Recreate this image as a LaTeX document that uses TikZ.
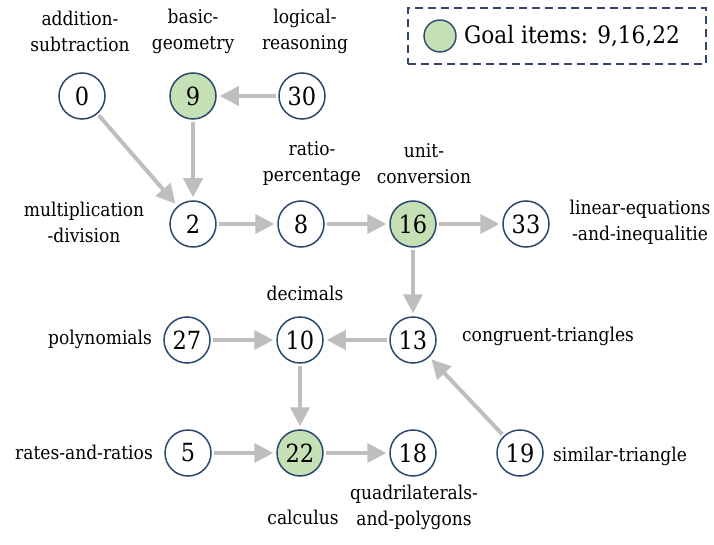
\documentclass[tikz,border=0pt]{standalone}
\usepackage{fontspec}
\setmainfont{DejaVu Serif Condensed}
\usetikzlibrary{arrows.meta}
\definecolor{edgegray}{HTML}{BEBEBE}
\definecolor{ringblue}{HTML}{2C4870}
\definecolor{goalgreen}{HTML}{C5E0B4}
\definecolor{boxblue}{HTML}{34466A}
\tikzset{
  item/.style={circle, draw=ringblue, line width=1.5pt, fill=white,
    minimum size=46pt, inner sep=0pt, font=\fontsize{25}{28}\selectfont},
  goal/.style={item, fill=goalgreen},
  topic/.style={align=center, inner sep=0pt, font=\fontsize{19}{26}\selectfont},
  link/.style={draw=edgegray, line width=4pt,
    -{Triangle[length=19pt,width=19pt]}, shorten <=2pt, shorten >=3pt},
}
\begin{document}
\begin{tikzpicture}[x=1pt,y=-1pt]
\useasboundingbox (0,0) rectangle (714,545);
\fill[white] (0,0) rectangle (714,545);

% items
\node[item] (n0)  at (82,96)   {0};
\node[goal] (n9)  at (193,96)  {9};
\node[item] (n30) at (302,96)  {30};
\node[item] (n2)  at (193,224) {2};
\node[item] (n8)  at (301,224) {8};
\node[goal] (n16) at (413,224) {16};
\node[item] (n33) at (526,224) {33};
\node[item] (n27) at (187,340) {27};
\node[item] (n10) at (300,340) {10};
\node[item] (n13) at (413,340) {13};
\node[item] (n5)  at (188,453) {5};
\node[goal] (n22) at (300,453) {22};
\node[item] (n18) at (413,453) {18};
\node[item] (n19) at (520,453) {19};

% topic names
\node[topic] (t0)  at (80,31)   {addition-\\subtraction};
\node[topic] (t9)  at (193,31)  {basic-\\geometry};
\node[topic] (t30) at (305,31)  {logical-\\reasoning};
\node[topic] (t2)  at (84,222)  {multiplication\\-division};
\node[topic] (t8)  at (312,164) {ratio-\\percentage};
\node[topic] (t16) at (424,164) {unit-\\conversion};
\node[topic] (t33) at (640,222) {linear-equations\\-and-inequalitie};
\node[topic] (t10) at (305,293) {decimals};
\node[topic] (t27) at (100,339) {polynomials};
\node[topic] (t13) at (548,336) {congruent-triangles};
\node[topic] (t5)  at (84,452)  {rates-and-ratios};
\node[topic] (t19) at (620,456) {similar-triangle};
\node[topic] (t22) at (303,517) {calculus};
\node[topic] (t18) at (414,507) {quadrilaterals-\\and-polygons};

% prerequisite links
\draw[link] (n0) -- (n2);
\draw[link] (n30) -- (n9);
\draw[link] (n9) -- (n2);
\draw[link] (n2) -- (n8);
\draw[link] (n8) -- (n16);
\draw[link] (n16) -- (n33);
\draw[link] (n16) -- (n13);
\draw[link] (n13) -- (n10);
\draw[link] (n27) -- (n10);
\draw[link] (n10) -- (n22);
\draw[link] (n5) -- (n22);
\draw[link] (n22) -- (n18);
\draw[link] (n19) -- (n13);

% legend
\node[draw=boxblue, dashed, dash pattern=on 8pt off 5pt, line width=1.8pt,
  minimum width=298pt, minimum height=56pt, inner sep=0pt] (legend) at (557,36) {};
\node[circle, draw=ringblue, line width=1.4pt, fill=goalgreen,
  minimum size=32pt, inner sep=0pt] (legdot) at (440,36) {};
\node[anchor=west, inner sep=0pt, font=\fontsize{24}{28}\selectfont]
  (legtext) at (464,36) {Goal items: 9,16,22};
\end{tikzpicture}
\end{document}
